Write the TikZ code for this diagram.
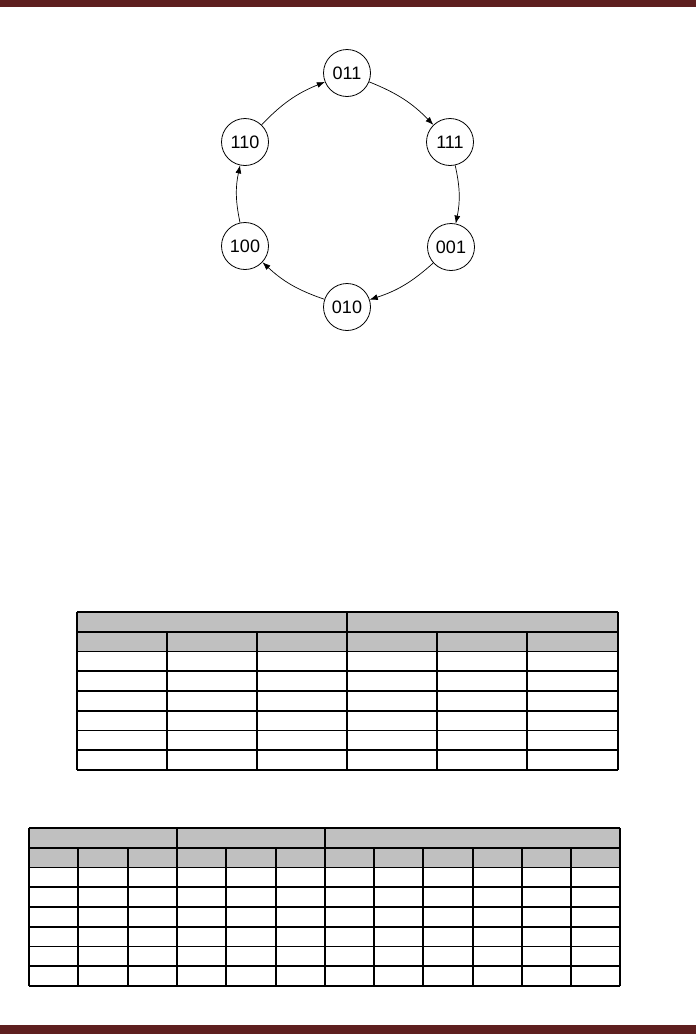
\documentclass[tikz,border=0pt]{standalone}
\usepackage{fontspec}
\setmainfont{Liberation Sans}
\usetikzlibrary{arrows.meta}
\definecolor{barred}{HTML}{5E1F1F}
\definecolor{hdrgray}{HTML}{C0C0C0}
\begin{document}
\begin{tikzpicture}[x=1pt,y=-1pt,
  state/.style={circle,draw,line width=0.8pt,minimum size=47pt,inner sep=0pt,font=\fontsize{18}{20}\selectfont},
  trans/.style={-{Latex[length=8pt,width=6pt]},line width=0.7pt,bend left=12},
  tbl/.style={line width=1.6pt},
  bar/.style={fill=barred}]
\useasboundingbox (0,0) rectangle (696,1034);
\fill[bar] (0,0) rectangle (696,7);
\fill[bar] (0,1025) rectangle (696,1034);

% state diagram
\node[state] (s011) at (347,73) {011};
\node[state] (s111) at (450,142) {111};
\node[state] (s001) at (451,247) {001};
\node[state] (s010) at (347,307) {010};
\node[state] (s100) at (245,246) {100};
\node[state] (s110) at (245,142) {110};
\draw[trans] (s011) to (s111);
\draw[trans] (s111) to (s001);
\draw[trans] (s001) to (s010);
\draw[trans] (s010) to (s100);
\draw[trans] (s100) to (s110);
\draw[trans] (s110) to (s011);

% table 1
\fill[hdrgray] (77,612) rectangle (618,652);
\foreach \i in {0,...,8} {
  \draw[tbl] (77,612+\i*19.75) -- (618,612+\i*19.75);
}
\foreach \x in {77,347,618} {
  \draw[tbl] (\x,612) -- (\x,770);
}
\foreach \x in {167,257,437,527} {
  \draw[tbl] (\x,631.75) -- (\x,770);
}

% table 2
\fill[hdrgray] (29,828) rectangle (620,867.5);
\foreach \i in {0,...,8} {
  \draw[tbl] (29,828+\i*19.75) -- (620,828+\i*19.75);
}
\foreach \x in {29,177,325,620} {
  \draw[tbl] (\x,828) -- (\x,986);
}
\foreach \x in {78,128,226,276,374,423,473,522,571} {
  \draw[tbl] (\x,847.75) -- (\x,986);
}
\end{tikzpicture}
\end{document}
